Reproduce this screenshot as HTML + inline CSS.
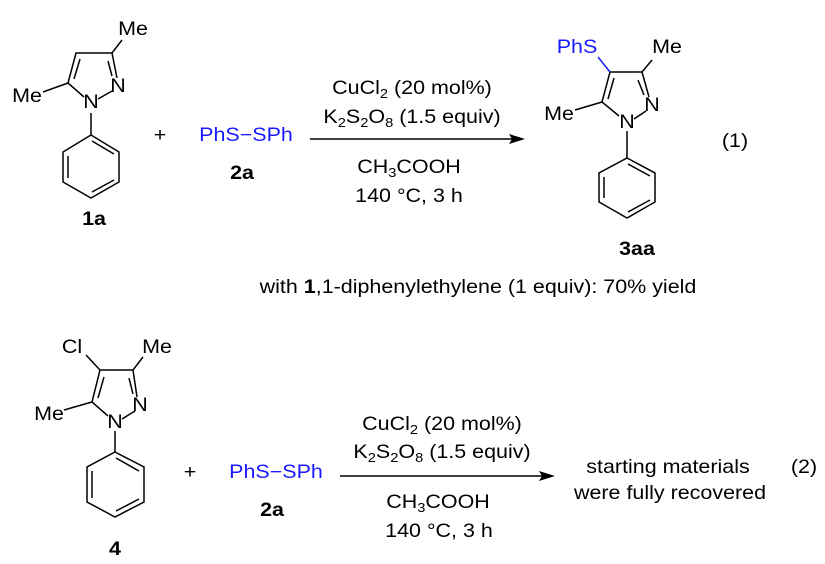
<!DOCTYPE html>
<html><head><meta charset="utf-8"><style>
html,body{margin:0;padding:0;background:#fff;}
svg{display:block;font-family:"Liberation Sans",Arial,sans-serif;}
text{font-size:19px;fill:#000;}
.b{font-weight:bold;}
.blue{fill:#1a1aff;}
line,path{stroke:#000;stroke-width:1.5;fill:none;}
</style></head><body>
<svg width="825" height="564" viewBox="0 0 825 564" xmlns="http://www.w3.org/2000/svg">
<!-- 1a -->
<path d="M122,40 L112,53 L76,53 L68,83 L84,97"/>
<path d="M80,59 L74,79"/>
<path d="M112,53 L117,78"/>
<path d="M108,61 L112,76"/>
<path d="M98,99 L112,91"/>
<path d="M68,83 L43,92"/>
<path d="M91,113 L91,135"/>
<path d="M91,135 L119,152 L119,182 L91,198 L63,182 L63,152 Z"/>
<path d="M92,141 L114,154 M114,180 L92,192 M68,156 L68,178"/>
<text transform="translate(133,35) scale(1.13,1)" text-anchor="middle">Me</text>
<text transform="translate(27,102) scale(1.13,1)" text-anchor="middle">Me</text>
<text transform="translate(91,108) scale(1.13,1)" text-anchor="middle">N</text>
<text transform="translate(118,92) scale(1.13,1)" text-anchor="middle">N</text>
<text transform="translate(94,225) scale(1.13,1)" text-anchor="middle" class="b">1a</text>

<text transform="translate(160,141) scale(1.13,1)" text-anchor="middle">+</text>
<text transform="translate(246,141) scale(1.13,1)" text-anchor="middle" class="blue">PhS−SPh</text>
<text transform="translate(242,179) scale(1.13,1)" text-anchor="middle" class="b">2a</text>
<line x1="310" y1="139" x2="516" y2="139"/>
<path d="M525,139 L509,134 L512,139 L509,144 Z" style="fill:#000;stroke:none"/>
<text transform="translate(412,94) scale(1.13,1)" text-anchor="middle">CuCl<tspan font-size="13" dy="4">2</tspan><tspan dy="-4"> (20 mol%)</tspan></text>
<text transform="translate(412,123) scale(1.13,1)" text-anchor="middle">K<tspan font-size="13" dy="4">2</tspan><tspan dy="-4">S</tspan><tspan font-size="13" dy="4">2</tspan><tspan dy="-4">O</tspan><tspan font-size="13" dy="4">8</tspan><tspan dy="-4"> (1.5 equiv)</tspan></text>
<text transform="translate(409,173) scale(1.13,1)" text-anchor="middle">CH<tspan font-size="13" dy="4">3</tspan><tspan dy="-4">COOH</tspan></text>
<text transform="translate(409,202) scale(1.13,1)" text-anchor="middle">140 °C, 3 h</text>

<!-- 3aa -->
<path d="M652,60 L642,72 L610,72 L602,102 L619,116"/>
<path d="M614,78 L608,99"/>
<path d="M642,72 L649,97"/>
<path d="M638,80 L644,95"/>
<path d="M634,119 L646,111"/>
<path d="M602,102 L575,110"/>
<path d="M627,131 L627,158"/>
<path d="M627,158 L655,173 L655,202 L627,218 L599,202 L599,173 Z"/>
<path d="M628,164 L650,176 M650,200 L628,212 M604,177 L604,198"/>
<path d="M610,72 L598,57" style="stroke:#1a1aff"/>
<text transform="translate(577,53) scale(1.13,1)" text-anchor="middle" class="blue">PhS</text>
<text transform="translate(667,53) scale(1.13,1)" text-anchor="middle">Me</text>
<text transform="translate(559,120) scale(1.13,1)" text-anchor="middle">Me</text>
<text transform="translate(627,128) scale(1.13,1)" text-anchor="middle">N</text>
<text transform="translate(652,111) scale(1.13,1)" text-anchor="middle">N</text>
<text transform="translate(637,255) scale(1.13,1)" text-anchor="middle" class="b">3aa</text>
<text transform="translate(735,147) scale(1.13,1)" text-anchor="middle">(1)</text>

<text transform="translate(478,293) scale(1.13,1)" text-anchor="middle">with <tspan class="b">1</tspan>,1-diphenylethylene (1 equiv): 70% yield</text>

<!-- 4 -->
<path d="M143,357 L133,370 L100,370 L92,402 L108,416"/>
<path d="M104,377 L98,398"/>
<path d="M133,370 L137,397"/>
<path d="M129,378 L133,394"/>
<path d="M122,419 L135,411"/>
<path d="M92,402 L64,410"/>
<path d="M100,370 L86,355"/>
<path d="M115,431 L115,452"/>
<path d="M115,452 L144,467 L144,502 L115,517 L87,502 L87,467 Z"/>
<path d="M116,458 L139,471 M139,499 L116,511 M92,471 L92,498"/>
<text transform="translate(72,353) scale(1.13,1)" text-anchor="middle">Cl</text>
<text transform="translate(157,353) scale(1.13,1)" text-anchor="middle">Me</text>
<text transform="translate(49,420) scale(1.13,1)" text-anchor="middle">Me</text>
<text transform="translate(115,428) scale(1.13,1)" text-anchor="middle">N</text>
<text transform="translate(140,411) scale(1.13,1)" text-anchor="middle">N</text>
<text transform="translate(115,555) scale(1.13,1)" text-anchor="middle" class="b">4</text>

<text transform="translate(190,478) scale(1.13,1)" text-anchor="middle">+</text>
<text transform="translate(276,478) scale(1.13,1)" text-anchor="middle" class="blue">PhS−SPh</text>
<text transform="translate(272,516) scale(1.13,1)" text-anchor="middle" class="b">2a</text>
<line x1="340" y1="476" x2="546" y2="476"/>
<path d="M555,476 L539,471 L542,476 L539,481 Z" style="fill:#000;stroke:none"/>
<text transform="translate(442,430) scale(1.13,1)" text-anchor="middle">CuCl<tspan font-size="13" dy="4">2</tspan><tspan dy="-4"> (20 mol%)</tspan></text>
<text transform="translate(442,458) scale(1.13,1)" text-anchor="middle">K<tspan font-size="13" dy="4">2</tspan><tspan dy="-4">S</tspan><tspan font-size="13" dy="4">2</tspan><tspan dy="-4">O</tspan><tspan font-size="13" dy="4">8</tspan><tspan dy="-4"> (1.5 equiv)</tspan></text>
<text transform="translate(438,508) scale(1.13,1)" text-anchor="middle">CH<tspan font-size="13" dy="4">3</tspan><tspan dy="-4">COOH</tspan></text>
<text transform="translate(439,537) scale(1.13,1)" text-anchor="middle">140 °C, 3 h</text>
<text transform="translate(668,473) scale(1.13,1)" text-anchor="middle">starting materials</text>
<text transform="translate(670,499) scale(1.13,1)" text-anchor="middle">were fully recovered</text>
<text transform="translate(804,473) scale(1.13,1)" text-anchor="middle">(2)</text>
</svg>
</body></html>
